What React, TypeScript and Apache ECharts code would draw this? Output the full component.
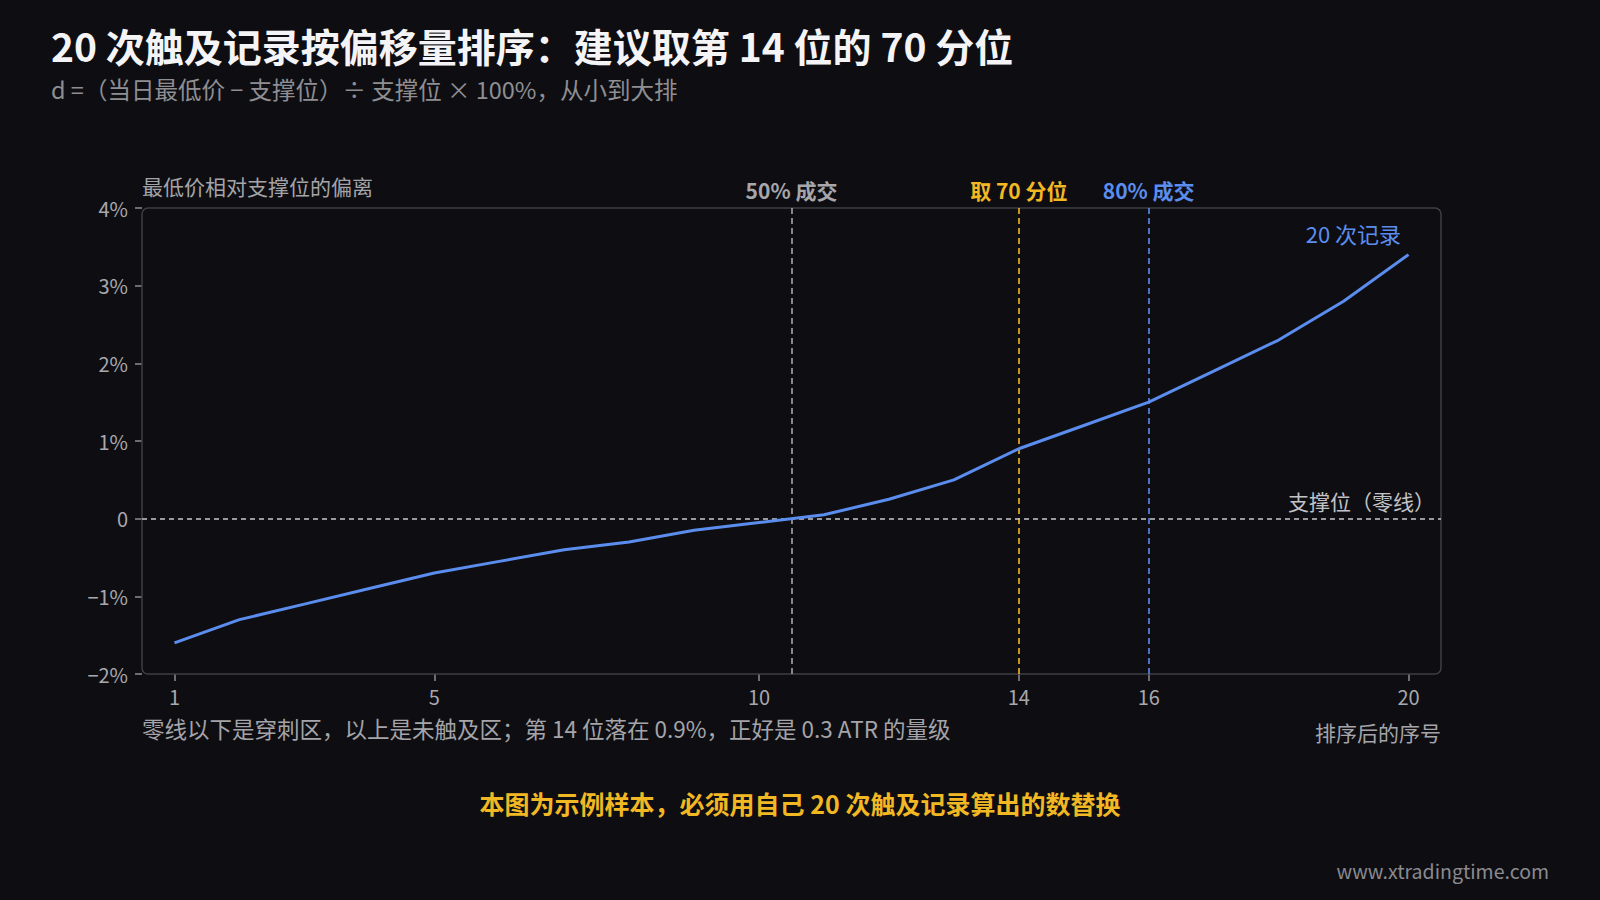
import React, { useEffect, useRef } from "react";
import * as echarts from "echarts";

// 排序后的序号与对应偏离（%）
const ranks = [1, 2, 3, 4, 5, 6, 7, 8, 9, 10, 11, 12, 13, 14, 15, 16, 17, 18, 19, 20];
const deviations = [
  -1.6, -1.3, -1.1, -0.9, -0.7, -0.55, -0.4, -0.3, -0.15, -0.05,
  0.05, 0.25, 0.5, 0.9, 1.2, 1.5, 1.9, 2.3, 2.8, 3.4,
];
const xTickValues = [1, 5, 10, 14, 16, 20];

// 分位标记线
const markerPositions = [10.5, 14, 16];
const markerLabels = ["50% 成交", "取 70 分位", "80% 成交"];
const markerColors = ["#a6a6ab", "#f2b824", "#5b8def"];

const BG = "#0e0e12";
const FONT = '"Noto Sans CJK SC", "Noto Sans", sans-serif';
const W = 1600;
const H = 900;
const GRID = { left: 142, right: 159, top: 208, bottom: 226 };

export default function App() {
  const chartRef = useRef<HTMLDivElement>(null);

  useEffect(() => {
    document.body.style.margin = "0";
    document.body.style.background = BG;
    if (!chartRef.current) return;

    const chart = echarts.init(chartRef.current, null, { renderer: "svg" });
    const plotW = W - GRID.left - GRID.right;
    const plotH = H - GRID.top - GRID.bottom;

    const option = {
      animation: false,
      backgroundColor: BG,
      textStyle: { fontFamily: FONT },
      grid: { ...GRID, containLabel: false },
      xAxis: {
        type: "value",
        min: 0.5,
        max: 20.5,
        axisLine: { show: false, onZero: false },
        splitLine: { show: false },
        axisTick: {
          show: true,
          length: 7,
          customValues: xTickValues,
          lineStyle: { color: "#8c8c92", width: 1.5 },
        },
        axisLabel: {
          customValues: xTickValues,
          color: "#a8a8ad",
          fontSize: 20,
          margin: 12,
        },
      },
      yAxis: {
        type: "value",
        min: -2,
        max: 4,
        interval: 1,
        axisLine: { show: false, onZero: false },
        splitLine: { show: false },
        axisTick: { show: true, length: 7, lineStyle: { color: "#8c8c92", width: 1.5 } },
        axisLabel: {
          color: "#a8a8ad",
          fontSize: 20,
          margin: 14,
          formatter: (v: number) =>
            v === 0 ? "0" : (v < 0 ? "\u2212" + Math.abs(v) : String(v)) + "%",
        },
      },
      graphic: [
        {
          type: "rect",
          z: 1,
          shape: { x: GRID.left, y: GRID.top, width: plotW, height: plotH, r: 6 },
          style: { fill: "none", stroke: "#3e3e45", lineWidth: 1.5 },
        },
        {
          type: "text",
          x: 51,
          y: 45,
          style: {
            text: "20 次触及记录按偏移量排序：建议取第 14 位的 70 分位",
            fill: "#f4f4f6",
            fontSize: 39,
            fontWeight: "bold",
            fontFamily: FONT,
            textVerticalAlign: "middle",
          },
        },
        {
          type: "text",
          x: 51,
          y: 89,
          style: {
            text: "d =（当日最低价 − 支撑位）÷ 支撑位 × 100%，从小到大排",
            fill: "#8e8e93",
            fontSize: 23.5,
            fontFamily: FONT,
            textVerticalAlign: "middle",
          },
        },
        {
          type: "text",
          x: GRID.left,
          y: 186,
          style: {
            text: "最低价相对支撑位的偏离",
            fill: "#a4a4a9",
            fontSize: 21,
            fontFamily: FONT,
            textVerticalAlign: "middle",
          },
        },
        {
          type: "text",
          x: W - GRID.right,
          y: 732,
          style: {
            text: "排序后的序号",
            fill: "#a4a4a9",
            fontSize: 21,
            fontFamily: FONT,
            textAlign: "right",
            textVerticalAlign: "middle",
          },
        },
        {
          type: "text",
          x: GRID.left,
          y: 728,
          style: {
            text: "零线以下是穿刺区，以上是未触及区；第 14 位落在 0.9%，正好是 0.3 ATR 的量级",
            fill: "#a4a4a9",
            fontSize: 22.5,
            fontFamily: FONT,
            textVerticalAlign: "middle",
          },
        },
        {
          type: "text",
          x: W / 2,
          y: 803,
          style: {
            text: "本图为示例样本，必须用自己 20 次触及记录算出的数替换",
            fill: "#f2b824",
            fontSize: 25,
            fontWeight: "bold",
            fontFamily: FONT,
            textAlign: "center",
            textVerticalAlign: "middle",
          },
        },
        {
          type: "text",
          x: 1549,
          y: 870,
          style: {
            text: "www.xtradingtime.com",
            fill: "#8a8a90",
            fontSize: 19.5,
            fontFamily: FONT,
            textAlign: "right",
            textVerticalAlign: "middle",
          },
        },
      ],
      series: [
        {
          type: "line",
          data: ranks.map((r, i) => [r, deviations[i]]),
          symbol: "none",
          z: 5,
          lineStyle: { color: "#5b8def", width: 3 },
          markPoint: {
            symbol: "circle",
            symbolSize: 1,
            itemStyle: { color: "transparent" },
            data: [
              {
                coord: [ranks[ranks.length - 1], deviations[deviations.length - 1]],
                label: {
                  show: true,
                  formatter: "20 次记录",
                  position: "left",
                  offset: [-2, -22],
                  color: "#5b8def",
                  fontSize: 22,
                  fontFamily: FONT,
                },
              },
            ],
          },
          markLine: {
            silent: true,
            symbol: ["none", "none"],
            data: [
              ...markerPositions.map((x, i) => ({
                xAxis: x,
                lineStyle: {
                  color: markerColors[i],
                  type: [6, 4],
                  width: 1.6,
                },
                label: {
                  show: true,
                  position: "end",
                  distance: 8,
                  formatter: markerLabels[i],
                  color: markerColors[i],
                  fontSize: 21,
                  fontWeight: "bold",
                  fontFamily: FONT,
                },
              })),
              {
                yAxis: 0,
                lineStyle: { color: "#c6c6cb", type: [5, 4], width: 1.6 },
                label: {
                  show: true,
                  position: "insideEndTop",
                  distance: [6, 7],
                  formatter: "支撑位（零线）",
                  color: "#c2c2c7",
                  fontSize: 21,
                  fontFamily: FONT,
                },
              },
            ],
          },
        },
      ],
    };

    chart.setOption(option);
    return () => {
      chart.dispose();
    };
  }, []);

  return <div ref={chartRef} style={{ width: W + "px", height: H + "px" }} />;
}
